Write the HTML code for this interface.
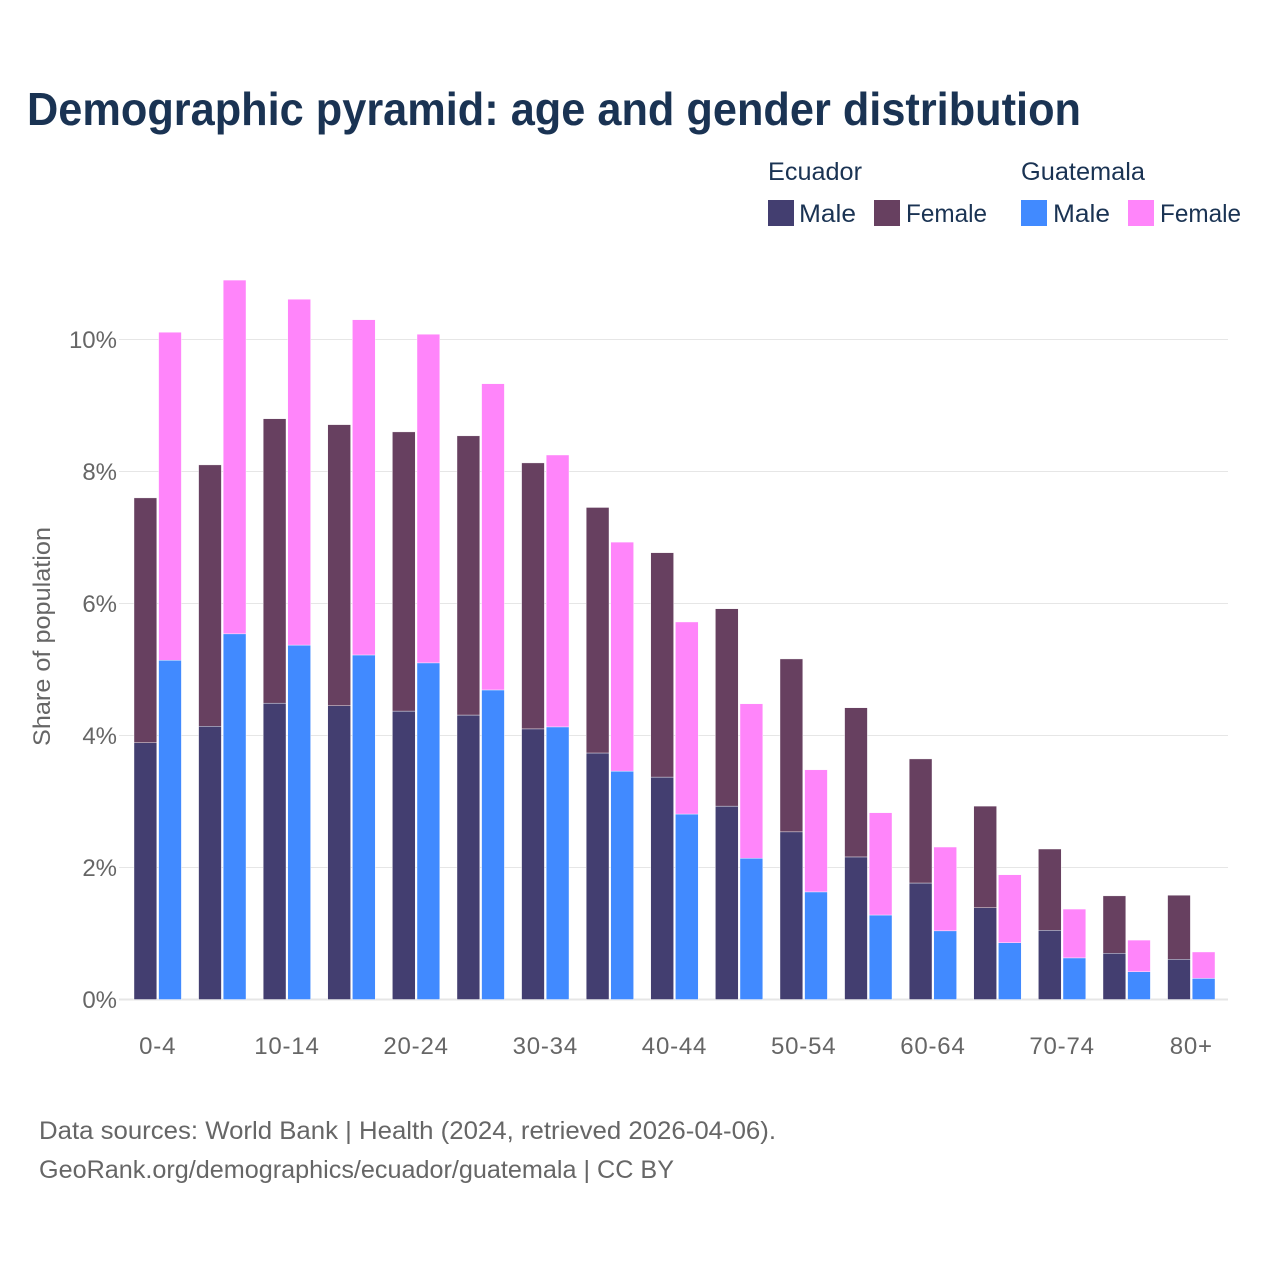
<!DOCTYPE html>
<html lang="en">
<head>
<meta charset="utf-8">
<title>Demographic pyramid: age and gender distribution</title>
<style>
html,body{margin:0;padding:0;background:#fff;}
svg{display:block;font-family:"Liberation Sans",sans-serif;}
</style>
</head>
<body>
<svg id="chart" width="1280" height="1280" viewBox="0 0 1280 1280" xmlns="http://www.w3.org/2000/svg">
  <rect x="0" y="0" width="1280" height="1280" fill="#ffffff"/>
  <text x="27" y="125" font-size="46" font-weight="700" fill="#1a3353" textLength="1054" lengthAdjust="spacingAndGlyphs">Demographic pyramid: age and gender distribution</text>

  <g font-size="25" fill="#1a3353">
    <text x="768" y="180" textLength="94" lengthAdjust="spacingAndGlyphs">Ecuador</text>
    <text x="1021" y="180" textLength="124" lengthAdjust="spacingAndGlyphs">Guatemala</text>
    <rect x="768" y="200" width="26" height="26" fill="#433e70"/>
    <text x="799" y="222" textLength="57" lengthAdjust="spacingAndGlyphs">Male</text>
    <rect x="874" y="200" width="26" height="26" fill="#674060"/>
    <text x="906" y="222" textLength="81" lengthAdjust="spacingAndGlyphs">Female</text>
    <rect x="1021" y="200" width="26" height="26" fill="#418aff"/>
    <text x="1053" y="222" textLength="57" lengthAdjust="spacingAndGlyphs">Male</text>
    <rect x="1128" y="200" width="26" height="26" fill="#ff85fa"/>
    <text x="1160" y="222" textLength="81" lengthAdjust="spacingAndGlyphs">Female</text>
  </g>

  <g id="grid"></g>
  <g id="yticks"></g>
  <g id="bars"></g>
  <g id="xticks"></g>

  <text transform="translate(50,746) rotate(-90)" x="0" y="0" font-size="24" fill="#666666" textLength="219" lengthAdjust="spacingAndGlyphs">Share of population</text>

  <g font-size="25" fill="#666666">
    <text x="39" y="1139" textLength="737" lengthAdjust="spacingAndGlyphs">Data sources: World Bank | Health (2024, retrieved 2026-04-06).</text>
    <text x="39" y="1178" textLength="635" lengthAdjust="spacingAndGlyphs">GeoRank.org/demographics/ecuador/guatemala | CC BY</text>
  </g>
</svg>
<script>
const categories = ["0-4","5-9","10-14","15-19","20-24","25-29","30-34","35-39","40-44","45-49","50-54","55-59","60-64","65-69","70-74","75-79","80+"];
const xTickLabels = ["0-4","10-14","20-24","30-34","40-44","50-54","60-64","70-74","80+"];
const yTicks = [0,2,4,6,8,10];
const ecuadorMale = [3.89,4.14,4.49,4.45,4.37,4.31,4.10,3.735,3.37,2.93,2.54,2.16,1.765,1.39,1.05,0.70,0.61];
const ecuadorFemale = [3.71,3.96,4.31,4.26,4.23,4.23,4.03,3.72,3.40,2.99,2.62,2.26,1.88,1.54,1.23,0.87,0.97];
const guatemalaMale = [5.14,5.54,5.37,5.22,5.10,4.69,4.13,3.46,2.81,2.14,1.63,1.28,1.04,0.86,0.63,0.42,0.32];
const guatemalaFemale = [4.97,5.36,5.24,5.08,4.98,4.64,4.12,3.47,2.91,2.34,1.85,1.55,1.27,1.03,0.74,0.48,0.40];

const NS = "http://www.w3.org/2000/svg";
const plotLeft = 119, plotRight = 1228, baseY = 999.5, pxPerUnit = 66;
const bandStart = 125.4, bandStep = 64.6, barWidth = 22.8, barGap = 1.8;
const yScale = function (v) { return baseY - v * pxPerUnit; };
const xBand = function (i) { return bandStart + bandStep * i; };
const xCenter = function (i) { return xBand(i) + bandStep / 2; };

const gridGroup = document.getElementById("grid");
const yTickGroup = document.getElementById("yticks");
const barGroup = document.getElementById("bars");
const xTickGroup = document.getElementById("xticks");

yTicks.forEach(function (t) {
  const line = document.createElementNS(NS, "line");
  
  
  line.setAttribute("x1", plotLeft);
  line.setAttribute("x2", plotRight);
  line.setAttribute("y1", yScale(t));
  line.setAttribute("y2", yScale(t));
  line.setAttribute("stroke", t === 0 ? "#e6e6e6" : "#e6e6e6");
  line.setAttribute("stroke-width", t === 0 ? 2 : 1);
  gridGroup.appendChild(line);

  const label = document.createElementNS(NS, "text");
  
  
  label.setAttribute("x", 117);
  label.setAttribute("y", yScale(t) + 8.5);
  label.setAttribute("text-anchor", "end");
  label.setAttribute("font-size", "24");
  label.setAttribute("fill", "#666666");
  label.textContent = t + "%";
  yTickGroup.appendChild(label);
});

function drawBar(x, y0, value, color) {
  const top = yScale(y0 + value);
  const bottom = yScale(y0);
  const rect = document.createElementNS(NS, "rect");
  
  
  rect.setAttribute("x", x);
  rect.setAttribute("y", top);
  rect.setAttribute("width", barWidth);
  rect.setAttribute("height", bottom - top);
  rect.setAttribute("fill", color);
  rect.setAttribute("stroke", "#ffffff");
  rect.setAttribute("stroke-width", "0.4");
  barGroup.appendChild(rect);
}

categories.forEach(function (c, i) {
  const xE = xBand(i) + 8.6;
  const xG = xE + barWidth + barGap;
  drawBar(xE, 0, ecuadorMale[i], "#433e70");
  drawBar(xE, ecuadorMale[i], ecuadorFemale[i], "#674060");
  drawBar(xG, 0, guatemalaMale[i], "#418aff");
  drawBar(xG, guatemalaMale[i], guatemalaFemale[i], "#ff85fa");
});

xTickLabels.forEach(function (lab) {
  const i = categories.indexOf(lab);
  const text = document.createElementNS(NS, "text");
  
  
  text.setAttribute("x", xCenter(i));
  text.setAttribute("y", 1054);
  text.setAttribute("text-anchor", "middle");
  text.setAttribute("font-size", "24");
  text.setAttribute("letter-spacing", "0.8");
  text.setAttribute("fill", "#666666");
  text.textContent = lab;
  xTickGroup.appendChild(text);
});
</script>
</body>
</html>
